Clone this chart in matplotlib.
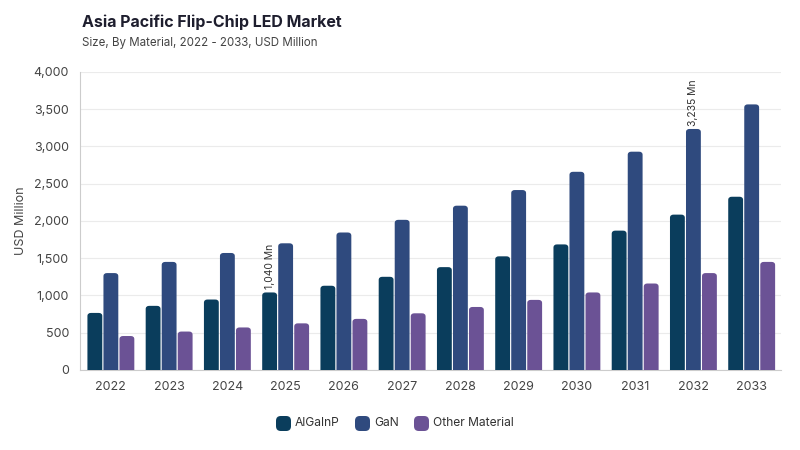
import matplotlib.pyplot as plt
from matplotlib.patches import FancyBboxPatch
import numpy as np

years = ['2022', '2023', '2024', '2025', '2026', '2027', '2028', '2029', '2030', '2031', '2032', '2033']
algainp = [765, 860, 945, 1040, 1130, 1250, 1380, 1525, 1685, 1870, 2085, 2325]
gan = [1300, 1450, 1570, 1700, 1845, 2015, 2205, 2415, 2660, 2930, 3235, 3565]
other = [455, 515, 570, 625, 685, 760, 845, 940, 1040, 1160, 1300, 1450]
series_names = ['AlGaInP', 'GaN', 'Other Material']
colors = ['#0a3d5c', '#2f4a7e', '#6b5295']

plt.rcParams['font.family'] = ['Inter', 'DejaVu Sans']

fig = plt.figure(figsize=(8, 4.5), dpi=100)
ax = fig.add_axes([0.1, 0.178, 0.876, 0.662])

x = np.arange(len(years))
w = 0.255
off = 0.275
ax.set_xlim(-0.53, 11.5)
ax.set_ylim(0, 4000)

# bars with rounded tops (bottom corners pushed below the axis and clipped)
for i, (vals, c) in enumerate(zip([algainp, gan, other], colors)):
    for xi, v in zip(x, vals):
        p = FancyBboxPatch((xi + (i - 1) * off - w / 2, -100), w, v + 100,
                           boxstyle='round,pad=0,rounding_size=0.06',
                           mutation_aspect=700, facecolor=c, edgecolor='none',
                           zorder=3, clip_on=True)
        ax.add_patch(p)

# annotations
ax.text(x[3] - off, algainp[3] + 40, '1,040 Mn', rotation=90, ha='center', va='bottom',
        fontsize=7.5, color='#333333')
ax.text(x[10], gan[10] + 40, '3,235 Mn', rotation=90, ha='center', va='bottom',
        fontsize=7.5, color='#333333')

ax.set_yticks(np.arange(0, 4001, 500))
ax.set_yticklabels(['{:,}'.format(v) for v in range(0, 4001, 500)])
ax.set_xticks(x)
ax.set_xticklabels(years)
ax.tick_params(axis='both', length=0, labelsize=9, colors='#444444', pad=8)
ax.grid(axis='y', color='#ebebeb', linewidth=0.8, zorder=0)
for s in ['top', 'right']:
    ax.spines[s].set_visible(False)
ax.spines['left'].set_color('#cccccc')
ax.spines['bottom'].set_color('#cccccc')
ax.set_ylabel('USD Million', fontsize=9, color='#444444')
ax.yaxis.set_label_coords(-0.075, 0.5)

fig.text(0.1025, 0.94, 'Asia Pacific Flip-Chip LED Market', fontsize=11.5, fontweight='bold',
         color='#1e1e2e', va='baseline')
fig.text(0.1025, 0.898, 'Size, By Material, 2022 - 2033, USD Million', fontsize=8.3,
         color='#444444', va='baseline')

# legend with rounded square markers
leg_x = [276, 355, 414]
for lx, name, c in zip(leg_x, series_names, colors):
    fig.patches.append(FancyBboxPatch((lx / 800, 1 - 431 / 450), 15 / 800, 15 / 450,
                                      boxstyle='round,pad=0,rounding_size=0.006',
                                      mutation_aspect=800 / 450, facecolor=c,
                                      edgecolor='none', transform=fig.transFigure,
                                      figure=fig))
    fig.text((lx + 19) / 800, 1 - 423.5 / 450, name, fontsize=8.7, color='#333333',
             va='center', ha='left')

fig.savefig('out.png', dpi=100)
